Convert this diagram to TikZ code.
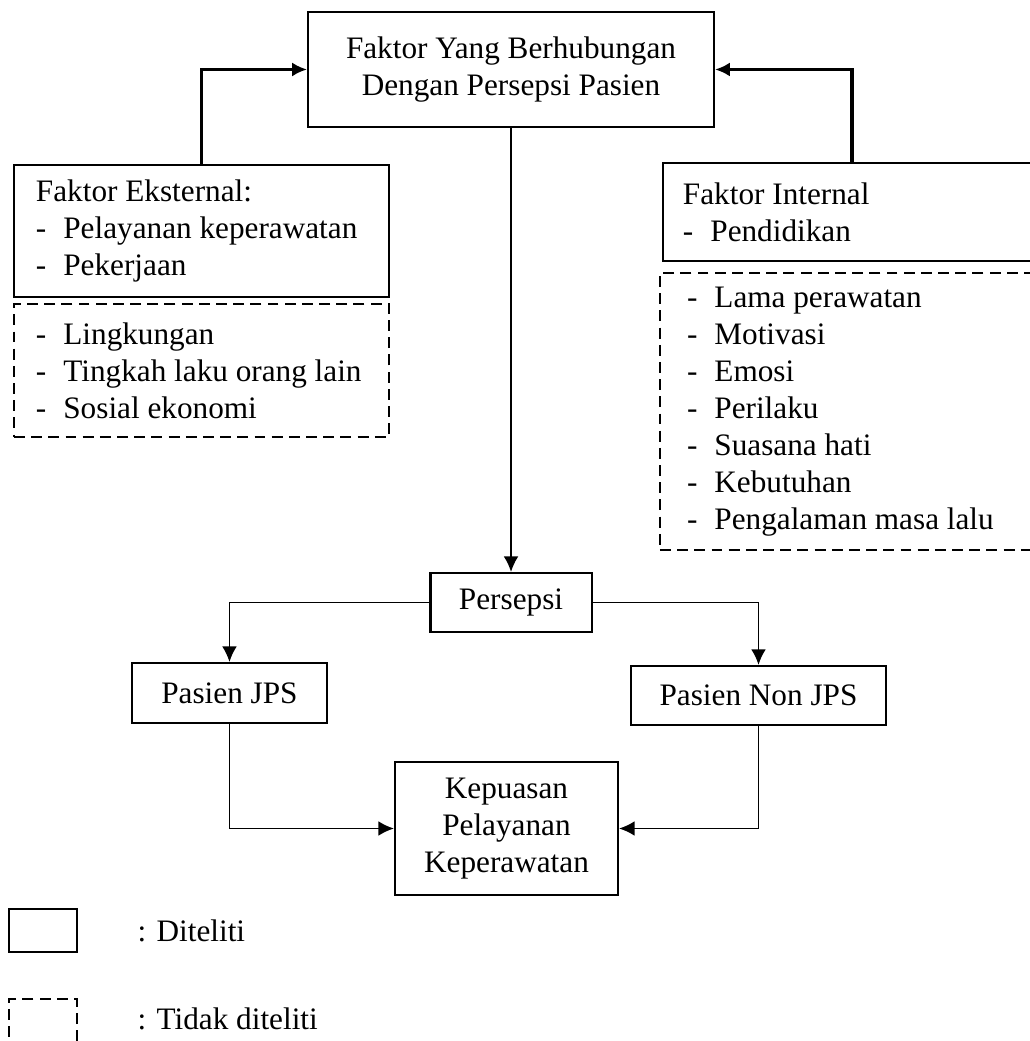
\documentclass[tikz,border=0pt]{standalone}
\usepackage{fontspec}
\setmainfont{Liberation Serif}
\usetikzlibrary{arrows.meta}
\newcommand{\itm}[1]{\mbox{\makebox[0.37cm][l]{-}#1}}

\begin{document}
\begin{tikzpicture}[font=\fontsize{12}{14.2}\selectfont,
  box/.style={draw,line width=0.8pt,align=center,inner sep=0pt},
  dbox/.style={box,dash pattern=on 4.2pt off 2.4pt},
  arr/.style={line width=0.7pt,-{Latex[length=0.21cm,width=0.2cm]}},
  bigarr/.style={line width=1.2pt,-{Latex[length=0.2cm,width=0.19cm]}}]
\useasboundingbox (0,0) rectangle (13.905,-14.054);

\node[box,minimum width=5.481cm,minimum height=1.553cm] (faktor) at (6.899,-0.938) {Faktor Yang Berhubungan\\Dengan Persepsi Pasien};

\node[box,align=flush left,text width=4.469cm,inner xsep=0.297cm,minimum height=1.782cm] (eksternal) at (2.720,-3.119) {Faktor Eksternal:\\\itm{Pelayanan keperawatan}\\\itm{Pekerjaan}};
\node[dbox,align=flush left,text width=4.469cm,inner xsep=0.297cm,minimum height=1.796cm] (eksternal2) at (2.720,-5.002) {\itm{Lingkungan}\\\itm{Tingkah laku orang lain}\\\itm{Sosial ekonomi}};

\node[box,align=flush left,text width=4.563cm,inner xsep=0.27cm,minimum height=1.323cm] (internal) at (11.502,-2.862) {Faktor Internal\\\itm{Pendidikan}};
\node[dbox,align=flush left,text width=4.454cm,inner xsep=0.365cm,minimum height=3.740cm] (internal2) at (11.502,-5.555) {\itm{Lama perawatan}\\\itm{Motivasi}\\\itm{Emosi}\\\itm{Perilaku}\\\itm{Suasana hati}\\\itm{Kebutuhan}\\\itm{Pengalaman masa lalu}};

\node[box,minimum width=2.174cm,minimum height=0.797cm] (persepsi) at (6.899,-8.134) {Persepsi};
\node[box,minimum width=2.633cm,minimum height=0.81cm] (jps) at (3.098,-9.356) {Pasien JPS};
\node[box,minimum width=3.443cm,minimum height=0.797cm] (nonjps) at (10.240,-9.389) {Pasien Non JPS};
\node[box,minimum width=3.011cm,minimum height=1.796cm] (kepuasan) at (6.838,-11.185) {Kepuasan\\Pelayanan\\Keperawatan};

\node[box,minimum width=0.918cm,minimum height=0.581cm] (diteliti) at (0.581,-12.562) {};
\node[anchor=base west,inner sep=0pt] (ketditeliti) at (1.850,-12.704) {: Diteliti};
\node[dbox,minimum width=0.918cm,minimum height=0.581cm] (tidak) at (0.581,-13.777) {};
\node[anchor=base west,inner sep=0pt] (kettidak) at (1.850,-13.892) {: Tidak diteliti};

\draw[bigarr] (eksternal.north) |- (faktor.west);
\draw[bigarr] (internal.north) |- (faktor.east);
\draw[arr] (faktor.south) -- (persepsi.north);
\draw[arr] (persepsi.west) -| (jps.north);
\draw[arr] (persepsi.east) -| (nonjps.north);
\draw[arr] (jps.south) |- (kepuasan.west);
\draw[arr] (nonjps.south) |- (kepuasan.east);
\end{tikzpicture}
\end{document}
